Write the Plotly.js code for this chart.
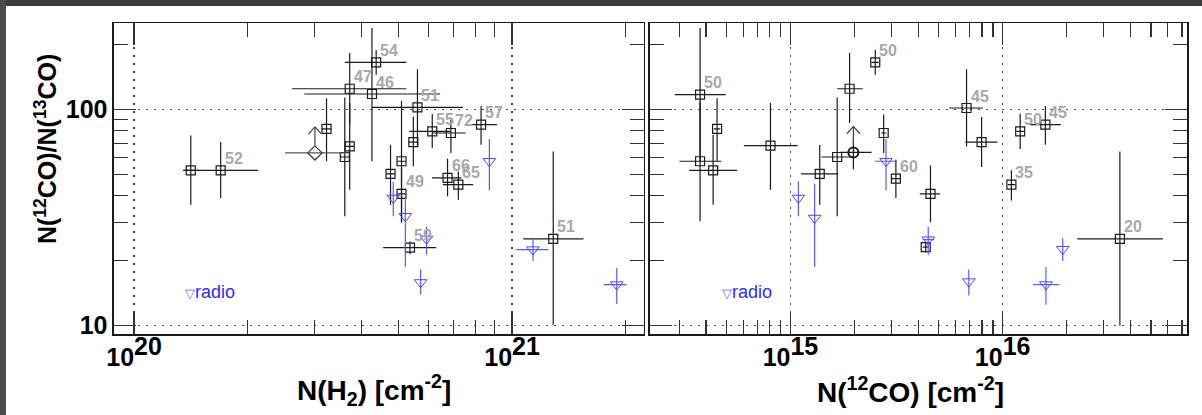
<!DOCTYPE html>
<html><head><meta charset="utf-8">
<script src="https://cdn.plot.ly/plotly-3.0.1.min.js"></script>
<style>
html,body{margin:0;padding:0;background:#fff;}
body{width:1202px;height:415px;overflow:hidden;position:relative;}
#topbar{position:absolute;left:0;top:0;width:1202px;height:6px;background:#3c3c3c;}
#leftbar{position:absolute;left:0;top:0;width:6px;height:415px;background:#4c4c4c;}
#chart{position:absolute;left:6px;top:6px;width:1196px;height:409px;}
</style></head><body>
<div id="topbar"></div><div id="leftbar"></div><div id="chart"></div>
<script>
// ---------------- Left panel: N(H2) ----------------
const h2X    = [1.413e20,1.695e20,3.23e20,3.72e20,3.72e20,3.61e20,4.37e20,4.26e20,5.62e20,5.48e20,6.15e20,6.89e20,8.28e20,6.75e20,7.21e20,5.10e20,5.10e20,4.77e20,5.37e20,1.285e21];
const h2XLo  = [1.35e20,1.35e20,3.13e20,2.62e20,3.62e20,3.51e20,3.61e20,2.82e20,4.26e20,5.33e20,5.35e20,6.14e20,7.74e20,6.14e20,6.56e20,4.97e20,4.97e20,4.65e20,4.56e20,1.07e21];
const h2XHi  = [1.48e20,2.13e20,3.33e20,5.25e20,3.82e20,3.71e20,5.25e20,6.45e20,7.41e20,5.63e20,6.86e20,7.54e20,9.12e20,7.35e20,7.89e20,5.23e20,5.23e20,4.90e20,6.30e20,1.545e21];
const h2Ratio= [52.4,52.4,81.5,125,67.6,60.4,165.6,118.2,102.5,70.7,79.4,78.0,85.2,48.3,45.0,57.7,40.8,50.4,23.0,25.2];
const h2RLo  = [36.3,39.0,57.7,85.4,42.6,32.1,145,57.7,68,54.7,66.5,63.1,68.9,39.7,38.3,30,30.1,36.3,21.4,10.1];
const h2RHi  = [76.0,70.8,113,183,107,114,189,239,154,93,95.5,89.9,104,59.2,51.8,110,55.3,68.9,24.5,64];
const h2Lbl  = ['','52','','47','','','54','46','51','','55','72','57','66','65','','49','','59','51'];

// lower limit (diamond)
const h2LimX = [3.01e20], h2LimXLo = [2.51e20], h2LimXHi = [3.66e20], h2LimR = [63.1];

// radio (triangles)
const h2RadX   = [8.71e20,4.85e20,5.22e20,5.94e20,5.73e20,1.136e21,1.892e21];
const h2RadXLo = [8.71e20,4.85e20,5.22e20,5.94e20,5.73e20,1.026e21,1.746e21];
const h2RadXHi = [8.71e20,4.85e20,5.22e20,5.94e20,5.73e20,1.248e21,2.01e21];
const h2RadR   = [57.7,39.0,32.1,25.2,15.85,22.5,15.5];
const h2RadRLo = [42.3,32.1,18.7,21.3,13.9,19.9,12.6];
const h2RadRHi = [73.1,46.5,40,28.8,18.2,25.2,18.5];

// ---------------- Right panel: N(12CO) ----------------
const coX    = [3.75e14,3.75e14,4.32e14,4.51e14,8.05e14,1.374e15,1.66e15,1.90e15,2.51e15,2.75e15,3.14e15,4.57e15,4.34e15,6.76e15,7.96e15,1.21e16,1.59e16,1.10e16,3.57e16];
const coXLo  = [2.85e14,3.0e14,3.33e14,4.35e14,6.03e14,1.122e15,1.40e15,1.66e15,2.41e15,2.67e15,2.98e15,4.07e15,4.2e15,5.6e15,6.68e15,1.16e16,1.346e16,1.06e16,2.25e16];
const coXHi  = [4.95e14,4.73e14,5.6e14,4.67e14,1.08e15,1.678e15,1.97e15,2.19e15,2.61e15,2.83e15,3.31e15,5.07e15,4.48e15,8.09e15,9.45e15,1.26e16,1.88e16,1.15e16,5.69e16];
const coRatio= [117.3,57.7,52.4,81.5,68.1,50.4,60.4,125,165.6,78.0,48.0,40.8,23.1,101.8,70.8,79.4,85.2,45.0,25.2];
const coRLo  = [57.5,30.4,36.3,57.7,42.6,36.3,32.1,86.7,145,63.1,39.0,30.1,21.8,67.6,54.3,65.7,68.9,38.0,10.0];
const coRHi  = [239,109,76.6,113,107.4,68.7,114,183,189,94.9,58.7,55.2,24.5,154,92.5,95.8,104,52.4,64];
const coLbl  = ['50','','','','','','','','50','','60','','','45','','50','45','35','20'];

// lower limit (circle)
const coLimX = [1.98e15], coLimXLo = [1.71e15], coLimXHi = [2.41e15], coLimR = [63.4], coLimRLo = [53], coLimRHi = [74];

// radio (triangles)
const coRadX   = [1.09e15,1.30e15,2.82e15,4.46e15,6.93e15,1.92e16,1.60e16];
const coRadXLo = [1.09e15,1.30e15,2.50e15,4.20e15,6.93e15,1.92e16,1.39e16];
const coRadXHi = [1.09e15,1.30e15,3.16e15,4.75e15,6.93e15,1.92e16,1.85e16];
const coRadR   = [39.0,31.5,57.7,25.0,16.0,22.6,15.5];
const coRadRLo = [32.1,18.7,42.3,21.3,13.8,19.9,12.5];
const coRadRHi = [46.5,45.4,73.1,28.6,18.2,25.4,18.7];

// ---------------- Axis ticks ----------------
const xTicks1 = [1e20, 1e21];
const xTickText1 = ['10<sup><span style="font-size:25px">20</span></sup>','10<sup><span style="font-size:25px">21</span></sup>'];
const xMinor1 = [2e20,3e20,4e20,5e20,6e20,7e20,8e20,9e20,2e21];
const xTicks2 = [1e15, 1e16];
const xTickText2 = ['10<sup><span style="font-size:25px">15</span></sup>','10<sup><span style="font-size:25px">16</span></sup>'];
const xMinor2 = [3e14,4e14,5e14,6e14,7e14,8e14,9e14,2e15,3e15,4e15,5e15,6e15,7e15,8e15,9e15,2e16,3e16,4e16,5e16,6e16,7e16];
const yTicks = [10, 100];
const yTickText = ['10','100'];
const yMinor = [20,30,40,50,60,70,80,90,200];

// ---------------- helpers ----------------
const sub = (a,b) => a.map((v,i)=>v-b[i]);
const BLK = '#1a1a1a', BLUE = '#4848ff';
const FONT = 'Liberation Sans, Arial, Helvetica, sans-serif';

function errTrace(x,xlo,xhi,y,ylo,yhi,xa,ya,sym,col,size,lw,ecol) {
  return {
    type:'scatter', mode:'markers', x:x, y:y, xaxis:xa, yaxis:ya, showlegend:false, hoverinfo:'skip',
    marker:{symbol:sym, size:size, color:col, line:{width:lw, color:col}},
    error_x:{type:'data', symmetric:false, array:sub(xhi,x), arrayminus:sub(x,xlo), width:0, thickness:1.2, color:ecol},
    error_y:{type:'data', symmetric:false, array:sub(yhi,y), arrayminus:sub(y,ylo), width:0, thickness:1.2, color:ecol}
  };
}

const traces = [
  errTrace(h2X,h2XLo,h2XHi,h2Ratio,h2RLo,h2RHi,'x','y','square-open',BLK,9,1.2,BLK),
  errTrace(h2LimX,h2LimXLo,h2LimXHi,h2LimR,h2LimR,h2LimR,'x','y','diamond-open','#333',11,1.2,'#555'),
  errTrace(h2RadX,h2RadXLo,h2RadXHi,h2RadR,h2RadRLo,h2RadRHi,'x','y','triangle-down-open',BLUE,11,1,'#5a5aff'),
  errTrace(coX,coXLo,coXHi,coRatio,coRLo,coRHi,'x2','y2','square-open',BLK,9,1.2,BLK),
  errTrace(coLimX,coLimXLo,coLimXHi,coLimR,coLimRLo,coLimRHi,'x2','y2','circle-open',BLK,10,2,BLK),
  errTrace(coRadX,coRadXLo,coRadXHi,coRadR,coRadRLo,coRadRHi,'x2','y2','triangle-down-open',BLUE,11,1,'#5a5aff')
];

// ---------------- annotations ----------------
const ann = [];
function labels(x,y,lbl,xr,yr){
  lbl.forEach((t,i)=>{ if(t) ann.push({x:Math.log10(x[i]), y:Math.log10(y[i]), xref:xr, yref:yr, text:t, showarrow:false,
    xanchor:'left', yanchor:'middle', xshift:2, yshift:12, font:{family:FONT, size:16, color:'#a8a8a8', weight:'bold'}}); });
}
labels(h2X,h2Ratio,h2Lbl,'x','y');
labels(coX,coRatio,coLbl,'x2','y2');

function limitArrows(x,y,xr,yr){
  x.forEach((v,i)=>{
    const base = {x:Math.log10(v), y:Math.log10(y[i]), xref:xr, yref:yr, text:' ', font:{size:1},
      showarrow:true, arrowhead:0, arrowwidth:1.2, arrowcolor:'#444', yshift:26};
    ann.push(Object.assign({}, base, {ax:0, ay:20}));
    ann.push(Object.assign({}, base, {ax:-8, ay:9}));
    ann.push(Object.assign({}, base, {ax:8, ay:9}));
  });
}
limitArrows(h2LimX,h2LimR,'x','y');
limitArrows(coLimX,coLimR,'x2','y2');

// radio keys
[['x domain','y domain'],['x2 domain','y2 domain']].forEach(r=>{
  ann.push({x:0.13, y:0.136, xref:r[0], yref:r[1], xanchor:'left', yanchor:'middle', showarrow:false,
    text:'<span style="font-size:13px;color:#6a6aff">▽</span>radio', font:{family:FONT, size:18, color:'#2b2bff'}});
});

// axis titles
ann.push({x:0.49, y:0.061, xref:'x domain', yref:'paper', xanchor:'center', yanchor:'middle', showarrow:false,
  text:'N(H<sub>2</sub>) [cm<sup>-2</sup>]', font:{family:FONT, size:28, color:'#000', weight:'bold'}});
ann.push({x:0.486, y:0.061, xref:'x2 domain', yref:'paper', xanchor:'center', yanchor:'middle', showarrow:false,
  text:'N(<sup>12</sup>CO) [cm<sup>-2</sup>]', font:{family:FONT, size:28, color:'#000', weight:'bold'}});
ann.push({x:0.0334, y:0.650, xref:'paper', yref:'paper', xanchor:'center', yanchor:'middle', showarrow:false, textangle:-90,
  text:'N(<sup>12</sup>CO)/N(<sup>13</sup>CO)', font:{family:FONT, size:25, color:'#000', weight:'bold'}});

// ---------------- axes ----------------
function axis(extra){
  return Object.assign({
    type:'log', showline:true, linecolor:'#1a1a1a', linewidth:1.5, mirror:'ticks',
    ticks:'inside', ticklen:22, tickwidth:1.2, tickcolor:'#333', tickmode:'array',
    showgrid:true, gridcolor:'#444', gridwidth:1.3, griddash:'2px,6px', zeroline:false,
    tickfont:{family:FONT, size:25, color:'#000', weight:'bold'}
  }, extra);
}
const minorBase = {tickmode:'array', ticks:'inside', ticklen:14, tickwidth:1.2, tickcolor:'#333', showgrid:false};
const yDom = [0.19731, 0.9577];

const layout = {
  width:1196, height:409, margin:{l:0,r:0,t:0,b:0}, paper_bgcolor:'#fff', plot_bgcolor:'#fff', showlegend:false,
  xaxis: axis({domain:[0.0903,0.53344], range:[19.947,21.349], tickvals:xTicks1, ticktext:xTickText1, anchor:'y',
    minor:Object.assign({tickvals:xMinor1}, minorBase)}),
  yaxis: axis({domain:yDom, range:[0.960,2.400], tickvals:yTicks, ticktext:yTickText, anchor:'x',
    minor:Object.assign({tickvals:yMinor}, minorBase)}),
  xaxis2: axis({domain:[0.53846,0.98746], range:[14.338,16.869], tickvals:xTicks2, ticktext:xTickText2, anchor:'y2',
    minor:Object.assign({tickvals:xMinor2}, minorBase)}),
  yaxis2: axis({domain:yDom, range:[0.960,2.400], tickvals:yTicks, ticktext:yTickText, anchor:'x2', showticklabels:false,
    minor:Object.assign({tickvals:yMinor}, minorBase)}),
  annotations: ann
};

Plotly.newPlot('chart', traces, layout, {staticPlot:true, displayModeBar:false});
</script></body></html>
